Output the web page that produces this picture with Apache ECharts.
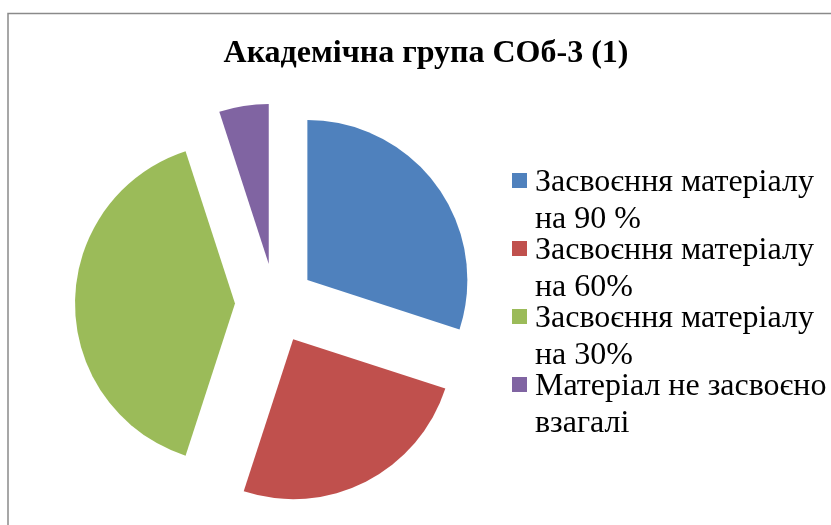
<!DOCTYPE html>
<html>
<head>
<meta charset="utf-8">
<script src="https://cdn.jsdelivr.net/npm/echarts@6/dist/echarts.min.js"></script>
<style>html,body{margin:0;padding:0;background:#fff;}#c{width:831px;height:525px;}</style>
</head>
<body>
<div id="c"></div>
<script>
const titleText = 'Академічна група СОб-3 (1)';
const categories = ['Засвоєння матеріалу\nна 90 %', 'Засвоєння матеріалу\nна 60%', 'Засвоєння матеріалу\nна 30%', 'Матеріал не засвоєно\nвзагалі'];
const values = [30, 25, 40, 5];
const colors = ['#4F81BD', '#C0504D', '#9BBB59', '#8064A2'];

const serif = "'Liberation Serif', 'Times New Roman', serif";
const chart = echarts.init(document.getElementById('c'), null, {renderer: 'canvas'});
chart.setOption({
  animation: false,
  backgroundColor: '#ffffff',
  title: {
    text: titleText,
    left: 426, top: 38, textAlign: 'center', padding: 0,
    textStyle: {fontFamily: serif, fontWeight: 'bold', fontSize: 32, color: '#000'}
  },
  legend: {
    orient: 'vertical',
    left: 512, top: 164, padding: 0,
    itemGap: -6,
    itemWidth: 18, itemHeight: 72,
    icon: 'path://M0,0H0.01V0.01H0Z M0,8H15V23H0Z M17.99,72H18V72.01H17.99Z',
    selectedMode: false,
    textStyle: {fontFamily: serif, fontSize: 32, color: '#000', lineHeight: 37},
    data: categories
  },
  graphic: [{
    type: 'polyline', silent: true,
    shape: {points: [[8, 525], [8, 13.5], [831, 13.5]]},
    style: {stroke: '#8a8a8a', lineWidth: 1.5, fill: null}
  }],
  series: [{
    type: 'pie',
    center: [275, 303.5],
    radius: [0, 160],
    startAngle: 90,
    clockwise: true,
    selectedMode: 'multiple',
    selectedOffset: 40,
    label: {show: false},
    labelLine: {show: false},
    emphasis: {disabled: true},
    data: categories.map((n, i) => ({name: n, value: values[i], selected: true, itemStyle: {color: colors[i]}}))
  }]
});
</script>
</body>
</html>
